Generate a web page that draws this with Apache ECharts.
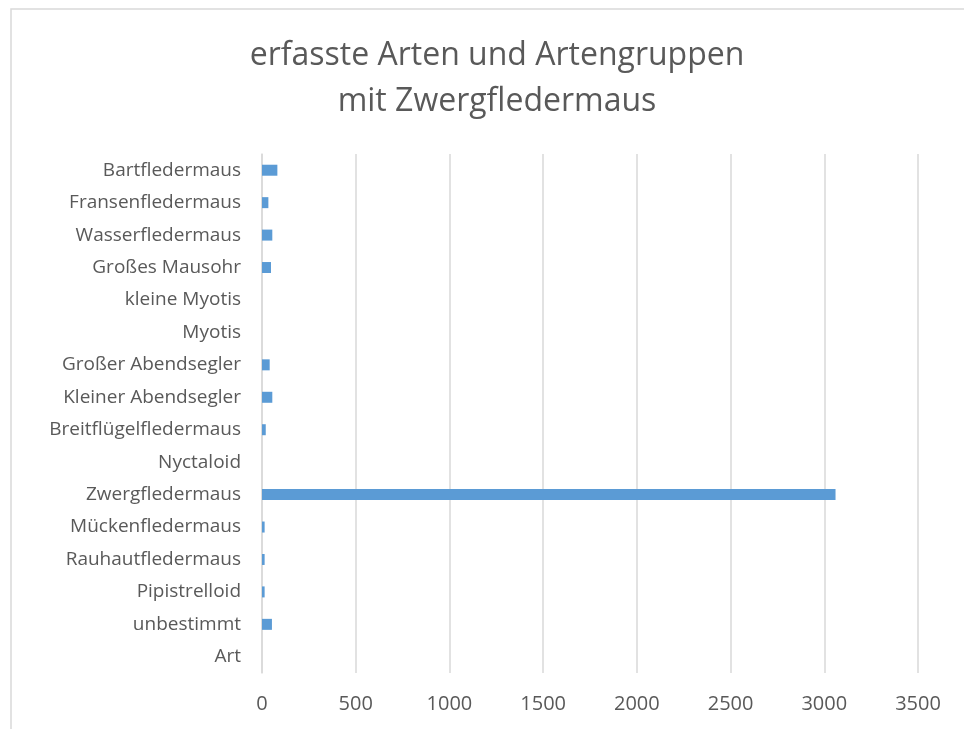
<!DOCTYPE html>
<html>
<head>
<meta charset="utf-8">
<script src="https://cdn.jsdelivr.net/npm/echarts@6/dist/echarts.min.js"></script>
<style>
  html, body { margin: 0; padding: 0; background: #fff; }
  #chart { width: 964px; height: 729px; }
</style>
</head>
<body>
<div id="chart"></div>
<script>
// categories from bottom to top (echarts draws the first one at the bottom)
const arten = [
  'Art', 'unbestimmt', 'Pipistrelloid', 'Rauhautfledermaus', 'Mückenfledermaus',
  'Zwergfledermaus', 'Nyctaloid', 'Breitflügelfledermaus', 'Kleiner Abendsegler',
  'Großer Abendsegler', 'Myotis', 'kleine Myotis', 'Großes Mausohr',
  'Wasserfledermaus', 'Fransenfledermaus', 'Bartfledermaus'
];
const anzahl = [0, 53, 14, 14, 14, 3060, 0, 20, 55, 41, 0, 0, 48, 55, 34, 82];
const xTicks = [0, 500, 1000, 1500, 2000, 2500, 3000, 3500];

const font = '"Open Sans", Lato, sans-serif';
const grey = '#595959';

let chart = echarts.init(document.getElementById('chart'));

let option = {
  animation: false,
  backgroundColor: '#fff',
  title: {
    text: 'erfasste Arten und Artengruppen\nmit Zwergfledermaus',
    left: 492,
    top: 28,
    textAlign: 'center',
    textStyle: {
      fontFamily: font,
      fontSize: 32,
      fontWeight: 'normal',
      color: grey,
      lineHeight: 46
    }
  },
  graphic: [{
    type: 'rect',
    shape: { x: 11, y: 9, width: 1000, height: 1000 },
    style: { fill: 'none', stroke: '#d9d9d9', lineWidth: 1.5 },
    silent: true
  }],
  grid: { left: 262, right: 46, top: 154, bottom: 56 },
  xAxis: {
    type: 'value',
    min: xTicks[0],
    max: xTicks[xTicks.length - 1],
    interval: 500,
    axisLine: { show: false },
    axisTick: { show: false },
    splitLine: { lineStyle: { color: '#d9d9d9', width: 1.5 } },
    axisLabel: {
      fontFamily: font, fontSize: 20, color: grey, margin: 21,
      formatter: (v) => String(v)
    }
  },
  yAxis: {
    type: 'category',
    data: arten,
    axisLine: { lineStyle: { color: '#d9d9d9', width: 1.5 } },
    axisTick: { show: false },
    axisLabel: { fontFamily: font, fontSize: 19, color: grey, margin: 21 }
  },
  series: [{
    type: 'bar',
    data: anzahl,
    barWidth: 11,
    itemStyle: { color: '#5b9bd5' }
  }]
};

chart.setOption(option);
</script>
</body>
</html>
